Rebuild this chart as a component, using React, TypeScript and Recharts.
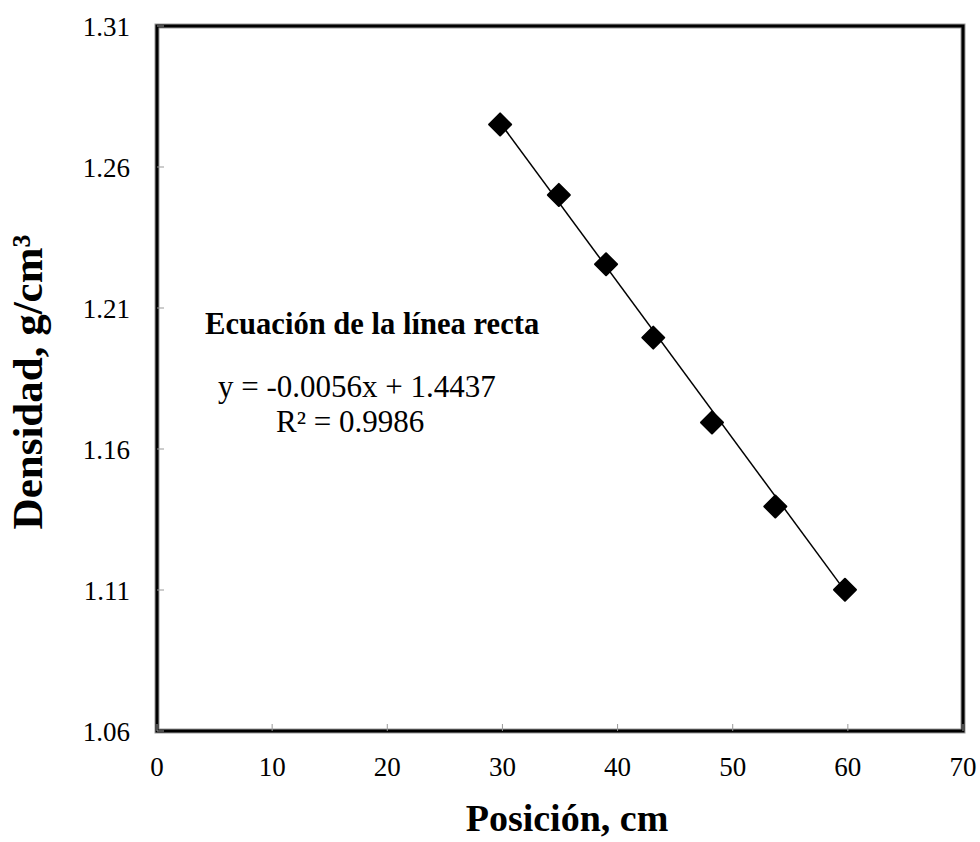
import React from "react"
import {
    ScatterChart,
    Scatter,
    XAxis,
    YAxis,
    ReferenceArea,
    Customized
} from "recharts"

// posición (cm) vs densidad (g/cm3)
const posicion = [29.8, 34.9, 39.0, 43.1, 48.2, 53.7, 59.75]
const densidad = [1.2751, 1.2501, 1.2255, 1.1995, 1.1694, 1.1396, 1.1101]

// trendline end points (Excel linear fit)
const trendX = [29.8, 59.75]
const trendY = [1.2757, 1.1097]

const xTicks = [0, 10, 20, 30, 40, 50, 60, 70]
const yTicks = [1.06, 1.11, 1.16, 1.21, 1.26, 1.31]

const points = posicion.map((x, i) => ({ x, y: densidad[i] }))
const trend = trendX.map((x, i) => ({ x, y: trendY[i] }))

const FONT = '"Liberation Serif", "Times New Roman", serif'

const Diamond = (props: any) => {
    const { cx, cy } = props
    const r = 11
    return (
        <path
            d={`M${cx},${cy - r} L${cx + r},${cy} L${cx},${cy + r} L${cx - r},${cy} Z`}
            fill="#000"
            stroke="#000"
            strokeWidth={2}
            strokeLinejoin="round"
        />
    )
}

const Texts = () => (
    <g fontFamily={FONT} fill="#000">
        <text x={205} y={334} fontSize={30.6} fontWeight="bold">Ecuación de la línea recta</text>
        <text x={218} y={397} fontSize={31}>y = -0.0056x + 1.4437</text>
        <text x={276} y={432} fontSize={31}>R² = 0.9986</text>
        <text x={567} y={831} fontSize={38} fontWeight="bold" textAnchor="middle">Posición, cm</text>
        <text
            transform="translate(42,382) rotate(-90)"
            fontSize={43}
            fontWeight="bold"
            textAnchor="middle"
        >
            Densidad, g/cm³
        </text>
    </g>
)

export default function App() {
    return (
        <div style={{ position: "absolute", left: 0, top: 0, background: "#fff" }}>
            <ScatterChart
                width={980}
                height={842}
                margin={{ top: 26, right: 17, left: 0, bottom: 0 }}
            >
                <XAxis
                    type="number"
                    dataKey="x"
                    domain={[0, 70]}
                    ticks={xTicks}
                    axisLine={false}
                    tickLine={{ stroke: "#999", strokeWidth: 1 }}
                    tickSize={-7}
                    tickMargin={33}
                    height={111}
                    interval={0}
                    tick={{ fontSize: 27, fill: "#000", fontFamily: FONT }}
                />
                <YAxis
                    type="number"
                    dataKey="y"
                    domain={[1.06, 1.31]}
                    ticks={yTicks}
                    axisLine={false}
                    tickLine={{ stroke: "#999", strokeWidth: 1 }}
                    tickSize={-7}
                    tickMargin={34}
                    width={157}
                    interval={0}
                    tickFormatter={(v: number) => v.toFixed(2)}
                    tick={{ fontSize: 27, fill: "#000", fontFamily: FONT }}
                />
                <ReferenceArea x1={0} x2={70} y1={1.06} y2={1.31} fill="none" stroke="#999" strokeWidth={5} />
                <ReferenceArea x1={0} x2={70} y1={1.06} y2={1.31} fill="none" stroke="#000" strokeWidth={3} />
                <Scatter
                    data={trend}
                    line={{ stroke: "#000", strokeWidth: 1.5 }}
                    shape={() => null}
                    isAnimationActive={false}
                />
                <Scatter data={points} shape={Diamond} isAnimationActive={false} />
                <Customized component={Texts} />
            </ScatterChart>
        </div>
    )
}
